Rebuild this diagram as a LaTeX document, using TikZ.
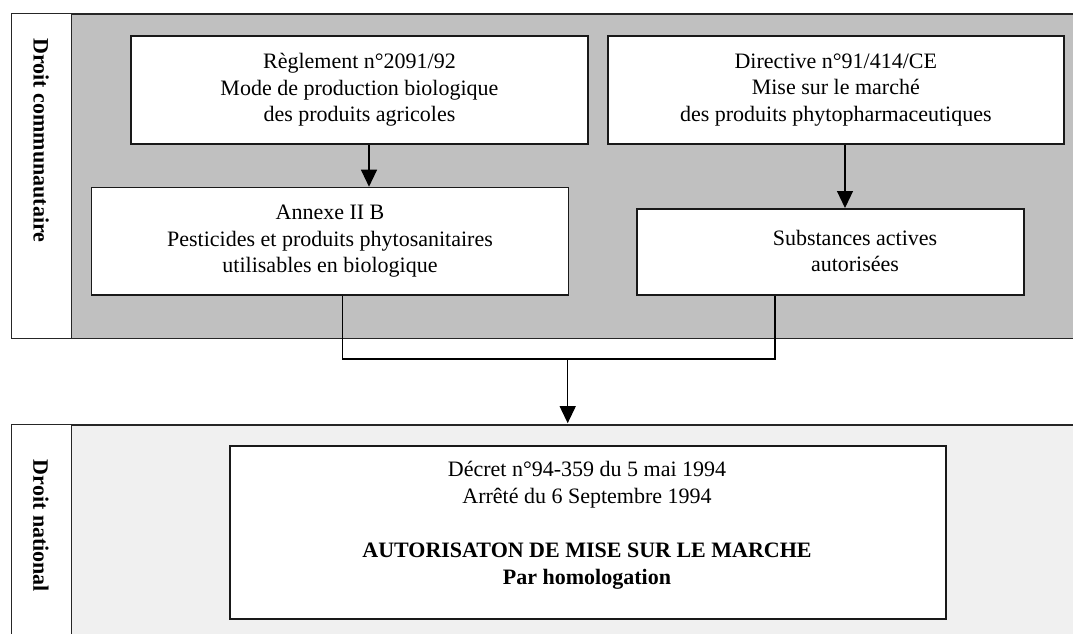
\documentclass[tikz,border=0pt]{standalone}
\usepackage{fontspec}
\setmainfont{Liberation Serif}
\usetikzlibrary{arrows.meta}
\definecolor{silver}{RGB}{192,192,192}
\definecolor{pale}{RGB}{240,240,240}
\tikzset{
  panel/.style={draw=black!85, line width=1.6pt, anchor=north west, inner sep=0pt},
  labcol/.style={draw=black!85, line width=1.4pt, fill=white, anchor=north west, inner sep=0pt},
  box/.style={draw=black!90, line width=1.6pt, fill=white, anchor=north west, inner sep=0pt, align=center,
    font=\fontsize{22}{26.5}\selectfont},
  txt/.style={align=center, inner sep=0pt, font=\fontsize{22}{26.5}\selectfont},
  vlab/.style={rotate=-90, font=\fontsize{22}{26}\selectfont\bfseries},
  link/.style={line width=1.2pt, black},
  arr/.style={link, -{Triangle[width=16pt,length=17pt]}}
}
\begin{document}
\begin{tikzpicture}[x=1pt,y=-1pt]
\clip (0,0) rectangle (1073,633);
\fill[white] (0,0) rectangle (1073,633);
% panels
\node[panel, fill=silver, minimum width=1080pt, minimum height=324.7pt] (eu) at (11,13) {};
\node[labcol, minimum width=60pt, minimum height=324.7pt] (eul) at (11,13) {};
\node[panel, fill=pale, minimum width=1080pt, minimum height=240pt] (fr) at (11,424) {};
\node[labcol, minimum width=60pt, minimum height=240pt] (frl) at (11,424) {};
\node[vlab] (t1) at (41,140.5) {Droit communautaire};
\node[vlab] (t2) at (41,526) {Droit national};
% boxes
\node[box, minimum width=457.3pt, minimum height=108.3pt] (b1) at (130,35)
  {Règlement n°2091/92\\Mode de production biologique\\des produits agricoles};
\node[box, minimum width=456pt, minimum height=108.3pt] (b2) at (607,35)
  {Directive n°91/414/CE\\Mise sur le marché\\des produits phytopharmaceutiques};
\node[box, minimum width=477pt, minimum height=107.6pt] (b3) at (90.7,186.7)
  {Annexe II B\\Pesticides et produits phytosanitaires\\utilisables en biologique};
\node[box, minimum width=387pt, minimum height=86.3pt] (b4) at (636,208) {};
\node[txt] (b4t) at (855,251) {Substances actives\\autorisées};
\node[box, minimum width=715.7pt, minimum height=173pt] (b5) at (229.3,445) {};
\node[txt, font=\fontsize{22}{27}\selectfont] (b5t) at (587,525)
  {Décret n°94-359 du 5 mai 1994\\Arrêté du 6 Septembre 1994\\[27pt]
   \textbf{AUTORISATON DE MISE SUR LE MARCHE}\\\textbf{Par homologation}};
% connectors
\coordinate (x1) at (369,0);
\coordinate (x2) at (845,0);
\coordinate (x3) at (342.3,0);
\coordinate (x4) at (775,0);
\coordinate (j) at (567.7,359);
\draw[arr] (b1.south -| x1) -- (b3.north -| x1);
\draw[arr] (b2.south -| x2) -- (b4.north -| x2);
\draw[link] (b3.south -| x3) |- (j) -| (b4.south -| x4);
\draw[arr] (j) -- ([yshift=0.8pt]fr.north -| j);
\end{tikzpicture}
\end{document}
